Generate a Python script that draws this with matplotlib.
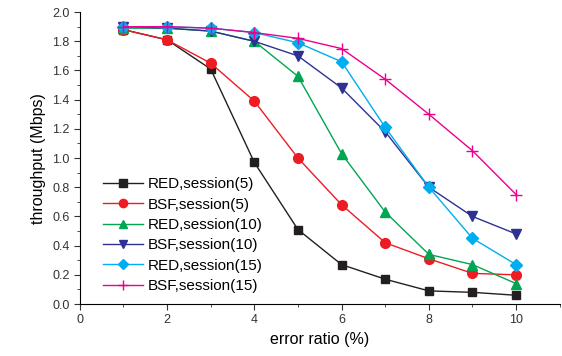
import matplotlib
matplotlib.use("Agg")
import matplotlib.pyplot as plt
from matplotlib.ticker import MultipleLocator

plt.rcParams['font.family'] = ['Liberation Sans', 'DejaVu Sans']

# error ratio (%)
x = [1, 2, 3, 4, 5, 6, 7, 8, 9, 10]

# throughput (Mbps)
red5 = [1.88, 1.81, 1.61, 0.97, 0.51, 0.27, 0.17, 0.09, 0.08, 0.06]
bsf5 = [1.88, 1.81, 1.65, 1.39, 1.00, 0.68, 0.42, 0.31, 0.21, 0.20]
red10 = [1.89, 1.89, 1.87, 1.80, 1.56, 1.03, 0.63, 0.34, 0.27, 0.14]
bsf10 = [1.90, 1.89, 1.87, 1.80, 1.70, 1.48, 1.18, 0.80, 0.60, 0.48]
red15 = [1.90, 1.90, 1.89, 1.86, 1.79, 1.66, 1.21, 0.80, 0.45, 0.27]
bsf15 = [1.90, 1.90, 1.89, 1.86, 1.82, 1.75, 1.54, 1.30, 1.05, 0.75]

fig = plt.figure(figsize=(5.62, 3.56), dpi=100)
ax = fig.add_axes([0.142, 0.146, 0.854, 0.82])

ax.plot(x, red5, color='#231f20', marker='s', ms=6, lw=1, label='RED,session(5)')
ax.plot(x, bsf5, color='#ed1c24', marker='o', ms=7, lw=1, label='BSF,session(5)')
ax.plot(x, red10, color='#00a651', marker='^', ms=7, lw=1, label='RED,session(10)')
ax.plot(x, bsf10, color='#2e3192', marker='v', ms=7, lw=1, label='BSF,session(10)')
ax.plot(x, red15, color='#00aeef', marker='D', ms=6, lw=1, label='RED,session(15)')
ax.plot(x, bsf15, color='#ec008c', marker='+', ms=8, lw=1, label='BSF,session(15)')

ax.set_xlim(0, 11)
ax.set_ylim(0, 2.0)
ax.xaxis.set_major_locator(MultipleLocator(2))
ax.xaxis.set_minor_locator(MultipleLocator(1))
ax.yaxis.set_major_locator(MultipleLocator(0.2))
ax.yaxis.set_minor_locator(MultipleLocator(0.1))
ax.tick_params(which='major', length=4, labelsize=9, colors='#333333')
ax.tick_params(which='minor', length=2.5, colors='#333333')

ax.spines['top'].set_visible(False)
ax.spines['right'].set_visible(False)

ax.set_xlabel('error ratio (%)', fontsize=11.5)
ax.set_ylabel('throughput (Mbps)', fontsize=11.5)

ax.legend(loc='lower left', bbox_to_anchor=(0.02, -0.01), frameon=False, fontsize=11,
          handlelength=2.6, labelspacing=0.42, handletextpad=0.3, markerscale=0.85)

fig.savefig('out.png', dpi=100)
